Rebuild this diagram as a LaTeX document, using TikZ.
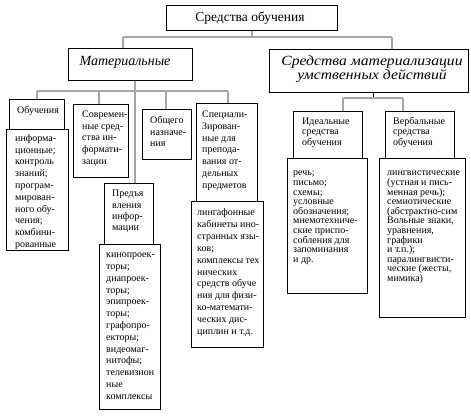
\documentclass[tikz,border=0pt]{standalone}
\usepackage{fontspec}
\setmainfont{Liberation Serif}
\begin{document}
\begin{tikzpicture}[x=1pt,y=-1pt,
  box/.style={draw=black, line width=0.9pt, fill=white, anchor=north west, inner sep=0pt},
  conn/.style={draw={rgb,255:red,165;green,165;blue,165}, line width=1.6pt},
  connk/.style={draw=black, line width=0.9pt},
  txt/.style={anchor=north west, inner sep=0pt, align=left, font=\fontsize{10}{11.8}\selectfont},
  txtr/.style={anchor=north west, inner sep=0pt, align=left, font=\fontsize{10}{9.6}\selectfont},
  head/.style={inner sep=0pt, align=center}]
\useasboundingbox[fill=white] (0,0) rectangle (471,417);
\newcommand{\fs}{\rule{0pt}{8pt}}
% ---------- boxes ----------
\node[box, minimum width=171pt, minimum height=25pt] (top) at (166,5) {};
\node[box, minimum width=124pt, minimum height=32pt] (mat) at (68,48) {};
\node[box, minimum width=199pt, minimum height=43pt] (mid) at (269,49) {};
\node[box, minimum width=62pt, minimum height=121pt] (obuc) at (6,129) {};
\node[box, minimum width=55pt, minimum height=30pt] (obu) at (9,99) {};
\node[box, minimum width=55pt, minimum height=73pt] (sovr) at (73,104) {};
\node[box, minimum width=49pt, minimum height=50pt] (obsh) at (142,109) {};
\node[box, minimum width=61pt, minimum height=98pt] (spec) at (196,103) {};
\node[box, minimum width=72pt, minimum height=146pt] (specc) at (191,201) {};
\node[box, minimum width=49pt, minimum height=61pt] (pred) at (104,183) {};
\node[box, minimum width=61pt, minimum height=165pt] (predc) at (99,244) {};
\node[box, minimum width=69pt, minimum height=47pt] (ideal) at (293,111) {};
\node[box, minimum width=80pt, minimum height=135pt] (idealc) at (287,158) {};
\node[box, minimum width=69pt, minimum height=47pt] (verb) at (385,111) {};
\node[box, minimum width=86pt, minimum height=159pt] (verbc) at (379,158) {};
% ---------- connectors ----------
\coordinate (ta) at (123,37);
\coordinate (tb) at (392,37);
\draw[conn] (top.south) -- (top.south |- ta);
\draw[conn] (ta) -- (tb);
\draw[conn] (ta) -- (ta |- mat.north);
\draw[conn] (tb) -- (tb |- mid.north);
\coordinate (ma) at (37,91);
\coordinate (mb) at (99,91);
\coordinate (mc) at (135,91);
\coordinate (md) at (166,91);
\coordinate (me) at (228,91);
\draw[conn] (ma) -- (me);
\draw[conn] (mc |- mat.south) -- (mc |- pred.north);
\draw[conn] (ma) -- (ma |- obu.north);
\draw[conn] (mb) -- (mb |- sovr.north);
\draw[conn] (md) -- (md |- obsh.north);
\draw[conn] (me) -- (me |- spec.north);
\coordinate (ra) at (343,98);
\coordinate (rb) at (373,98);
\coordinate (rc) at (403,98);
\draw[connk] (rb |- mid.south) -- (rb);
\draw[conn] (ra) -- (rc);
\draw[conn] (ra) -- (ra |- ideal.north);
\draw[conn] (rc) -- (rc |- verb.north);
% ---------- texts ----------
\node[head, font=\fontsize{13.5}{15}\selectfont] (top-t) at (250,18) {Средства обучения};
\node[head, font=\fontsize{14}{14.5}\selectfont\itshape] (mat-t) at (125,62) {Материальные};
\node[head, font=\fontsize{14}{14.5}\selectfont\itshape\addfontfeatures{FakeStretch=1.12}] (mid-t) at (372,69) {Средства материализации\\умственных действий};
\node[anchor=base, inner sep=0pt, font=\fontsize{10}{11.8}\selectfont] (obu-t) at (38,113.5) {Обучения};
\begin{scope}
\clip (6,129) rectangle (68,248);
\node[txt] (obuc-t) at (15,133) {\fs информа-\\ционные;\\контроль\\знаний;\\програм-\\мирован-\\ного обу-\\чения;\\комбини-\\рованные};
\end{scope}
\node[txt, font=\fontsize{10}{11.7}\selectfont] (sovr-t) at (82,109.3) {\fs Современ-\\ные сред-\\ства ин-\\формати-\\зации};
\node[txt, font=\fontsize{10}{11.7}\selectfont] (obsh-t) at (150,115.3) {\fs Общего\\назначе-\\ния};
\node[txt] (spec-t) at (202,109.3) {\fs Специали-\\Зирован-\\ные для\\препода-\\вания от-\\дельных\\предметов};
\node[txt, font=\fontsize{10}{11.9}\selectfont] (specc-t) at (197,207.3) {\fs лингафонные\\кабинеты ино-\\странных язы-\\ков;\\комплексы тех\\нических\\средств обуче\\ния для физи-\\ко-математи-\\ческих дис-\\циплин и т.д.};
\node[txt, font=\fontsize{10}{11.4}\selectfont] (pred-t) at (112,188.5) {\fs Предъя\\вления\\инфор-\\мации};
\node[txt] (predc-t) at (106,249.5) {\fs кинопроек-\\торы;\\диапроек-\\торы;\\эпипроек-\\торы;\\графопро-\\екторы;\\видеомаг-\\нитофы;\\телевизион\\ные\\комплексы};
\node[txt, font=\fontsize{10}{10.5}\selectfont] (ideal-t) at (302,116) {\fs Идеальные\\средства\\обучения};
\node[txt, font=\fontsize{10}{10.5}\selectfont] (verb-t) at (393,116) {\fs Вербальные\\средства\\обучения};
\node[txtr] (idealc-t) at (293,167.6) {\fs речь;\\письмо;\\схемы;\\условные\\обозначения;\\мнемотехниче-\\ские приспо-\\собления для\\запоминания\\и др.};
\node[txtr] (verbc-t) at (387,167.6) {\fs лингвистические\\(устная и пись-\\менная речь);\\семиотические\\(абстрактно-сим\\Вольные знаки,\\уравнения,\\графики\\и т.п.);\\паралингвисти-\\ческие (жесты,\\мимика)};
\end{tikzpicture}
\end{document}
